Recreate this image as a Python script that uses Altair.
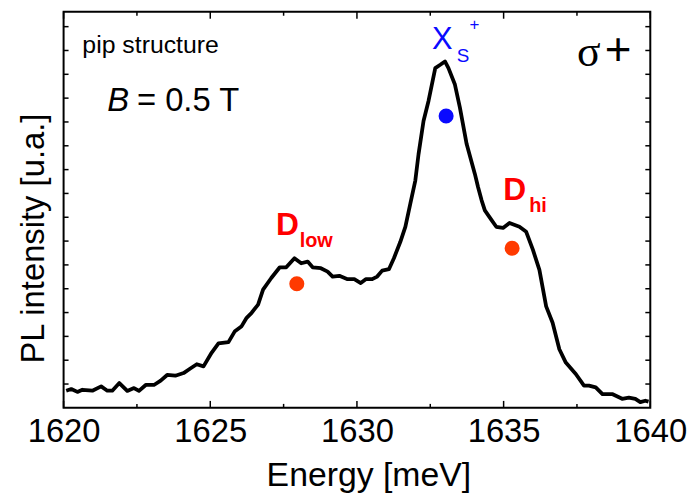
import altair as alt
import pandas as pd

# PL spectrum (energy in meV, intensity in arbitrary units)
energy = [1620.09, 1620.26, 1620.47, 1620.64, 1620.98, 1621.28, 1621.49, 1621.66, 1621.90, 1622.17,
          1622.40, 1622.57, 1622.80, 1623.08, 1623.31, 1623.53, 1623.81, 1624.09, 1624.32, 1624.54,
          1624.77, 1625.05, 1625.28, 1625.62, 1625.84, 1626.07, 1626.24, 1626.41, 1626.63, 1626.80,
          1627.08, 1627.37, 1627.59, 1627.87, 1628.10, 1628.32, 1628.49, 1628.77, 1629.00, 1629.17,
          1629.40, 1629.68, 1629.91, 1630.13, 1630.30, 1630.52, 1630.69, 1630.86, 1631.09, 1631.26,
          1631.48, 1631.65, 1631.82, 1631.99, 1632.10, 1632.27, 1632.44, 1632.67, 1632.84, 1633.00,
          1633.12, 1633.34, 1633.51, 1633.74, 1634.02, 1634.13, 1634.25, 1634.36, 1634.59, 1634.75,
          1634.98, 1635.20, 1635.54, 1635.77, 1636.00, 1636.22, 1636.45, 1636.67, 1636.90, 1637.12,
          1637.46, 1637.74, 1637.91, 1638.14, 1638.37, 1638.70, 1639.04, 1639.27, 1639.49, 1639.66,
          1639.83, 1639.94]
intensity = [0.72, 0.79, 0.67, 0.76, 0.72, 0.90, 0.72, 0.72, 1.04, 0.71,
             0.83, 0.71, 0.96, 0.96, 1.14, 1.38, 1.35, 1.46, 1.65, 1.83,
             1.74, 2.32, 2.71, 2.76, 3.22, 3.43, 3.78, 3.99, 4.33, 4.96,
             5.45, 5.90, 5.90, 6.28, 6.07, 6.14, 5.90, 5.86, 5.72, 5.51,
             5.54, 5.40, 5.40, 5.24, 5.40, 5.40, 5.51, 5.76, 5.82, 6.28,
             6.97, 7.60, 8.57, 9.54, 10.65, 12.04, 12.88, 14.26, 14.40, 14.54,
             14.26, 13.57, 12.60, 11.07, 9.82, 9.26, 8.71, 8.29, 7.88, 7.60,
             7.55, 7.76, 7.60, 7.39, 6.63, 5.79, 4.26, 3.57, 2.46, 1.90,
             1.42, 0.93, 0.93, 0.86, 0.58, 0.58, 0.38, 0.43, 0.38, 0.24,
             0.30, 0.26]

# Peak positions marked by dots
marker_name = ["Xs+", "Dlow", "Dhi"]
marker_energy = [1633.04, 1627.95, 1635.29]
marker_intensity = [12.25, 5.21, 6.70]

# Tick positions
x_major = [1620, 1625, 1630, 1635, 1640]
x_minor = [1622.5, 1627.5, 1632.5, 1637.5]
y_ticks = list(range(1, 17))

FONT = "Liberation Sans"
W, H = 591, 399

xs = alt.Scale(domain=[1620, 1640], nice=False, zero=False)
ys = alt.Scale(domain=[0, 16.625], nice=False, zero=False)

x_axis = alt.Axis(
    title="Energy [meV]", values=x_major, format="d", ticks=False, domain=False, grid=False,
    labelFontSize=33, labelFont=FONT, labelColor="black", labelPadding=8,
    labelOverlap=False, labelFlush=False, labelBound=False,
    titleFontSize=34, titleFont=FONT, titleFontWeight="normal", titleColor="black",
    titleX=307, titleY=78, titleBaseline="alphabetic", titleAlign="center")
y_axis = alt.Axis(
    title="PL intensity [u.a.]", labels=False, ticks=False, domain=False, grid=False,
    titleFontSize=33, titleFont=FONT, titleFontWeight="normal", titleColor="black",
    titleAngle=270, titleX=-20, titleY=228, titleBaseline="alphabetic", titleAlign="center")

spec_df = pd.DataFrame({"E": energy, "I": intensity})
mk_df = pd.DataFrame({"E": marker_energy, "I": marker_intensity, "name": marker_name})

line = alt.Chart(spec_df).mark_line(color="black", strokeWidth=3.8, strokeJoin="round").encode(
    x=alt.X("E:Q", scale=xs, axis=x_axis),
    y=alt.Y("I:Q", scale=ys, axis=y_axis),
)

dots = alt.Chart(mk_df).mark_circle(size=230, opacity=1).encode(
    x=alt.X("E:Q", scale=xs, axis=x_axis),
    y=alt.Y("I:Q", scale=ys, axis=y_axis),
    color=alt.Color("name:N", legend=None, scale=alt.Scale(
        domain=["Xs+", "Dlow", "Dhi"], range=["#0a0aff", "#ff3a00", "#ff3a00"])),
)

def rule_x(vals, y0, y1):
    return alt.Chart(pd.DataFrame({"E": vals})).mark_rule(color="black", strokeWidth=1.5).encode(
        x=alt.X("E:Q", scale=xs, axis=x_axis), y=alt.value(y0), y2=alt.value(y1))

def rule_y(vals, x0, x1):
    return alt.Chart(pd.DataFrame({"I": vals})).mark_rule(color="black", strokeWidth=1.5).encode(
        y=alt.Y("I:Q", scale=ys, axis=y_axis), x=alt.value(x0), x2=alt.value(x1))

ticks = [
    rule_x(x_major, H, H - 7), rule_x(x_major, 0, 7),
    rule_x(x_minor, H, H - 4), rule_x(x_minor, 0, 4),
    rule_y(y_ticks, 0, 5), rule_y(y_ticks, W, W - 5),
]

def label(text, e, i, size, color="black", weight="normal", style="normal", font=FONT):
    return alt.Chart(pd.DataFrame({"t": [text]})).mark_text(
        align="left", baseline="alphabetic", fontSize=size, color=color,
        fontWeight=weight, fontStyle=style, font=font).encode(
        x=alt.XDatum(e, scale=xs, axis=x_axis), y=alt.YDatum(i, scale=ys, axis=y_axis), text="t:N")

blue = "#0a0aff"
red = "#ff0000"
labels = [
    label("pip structure", 1620.64, 14.875, 25),
    label("B", 1621.49, 12.458, 33, style="italic"),
    label("= 0.5 T", 1622.50, 12.458, 33),
    label("X", 1632.555, 15.083, 31, color=blue),
    label("S", 1633.40, 14.50, 19, color=blue),
    label("+", 1633.84, 15.875, 17, color=blue),
    label("σ", 1637.50, 14.33, 44, font="Liberation Serif"),
    label("+", 1638.45, 14.40, 46),
    label("D", 1627.24, 7.25, 32, color=red, weight="bold"),
    label("low", 1628.05, 6.75, 20, color=red, weight="bold"),
    label("D", 1634.99, 8.71, 32, color=red, weight="bold"),
    label("hi", 1635.87, 8.21, 20, color=red, weight="bold"),
]

chart = alt.layer(line, dots, *ticks, *labels).properties(
    width=W, height=H,
    autosize=alt.AutoSizeParams(type="none"),
    padding={"left": 56, "top": 2, "right": 40, "bottom": 88},
    background="white",
).configure_view(stroke="black", strokeWidth=2)

chart.save("out.html", embed_options={"renderer": "svg", "actions": False})
